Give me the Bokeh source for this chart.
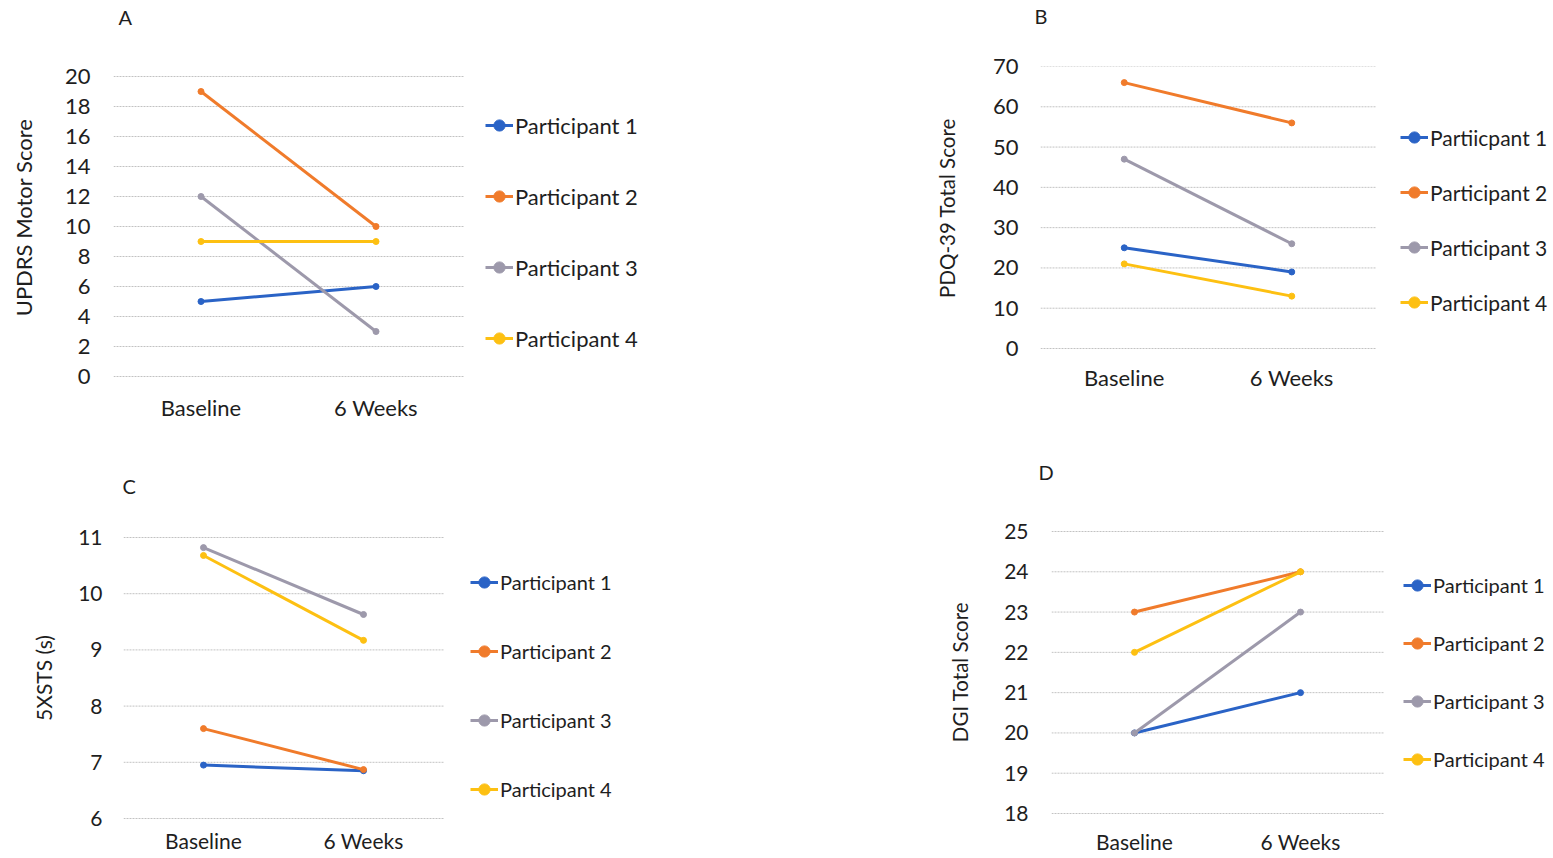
from bokeh.plotting import figure
from bokeh.models import Range1d, FixedTicker, Legend, LegendItem
from bokeh.layouts import row, column
from bokeh.embed import file_html
from bokeh.resources import INLINE

# ---------------- data ----------------
timepoints = ["Baseline", "6 Weeks"]
colors = ["#2a63c6", "#f07b2b", "#9d99ab", "#fdc012"]

a_names = ["Participant 1", "Participant 2", "Participant 3", "Participant 4"]
a_p1 = [5, 6]
a_p2 = [19, 10]
a_p3 = [12, 3]
a_p4 = [9, 9]
a_ticks = [0, 2, 4, 6, 8, 10, 12, 14, 16, 18, 20]

b_names = ["Partiicpant 1", "Participant 2", "Participant 3", "Participant 4"]
b_p1 = [25, 19]
b_p2 = [66, 56]
b_p3 = [47, 26]
b_p4 = [21, 13]
b_ticks = [0, 10, 20, 30, 40, 50, 60, 70]

c_names = ["Participant 1", "Participant 2", "Participant 3", "Participant 4"]
c_p1 = [6.95, 6.85]
c_p2 = [7.6, 6.87]
c_p3 = [10.82, 9.63]
c_p4 = [10.68, 9.17]
c_ticks = [6, 7, 8, 9, 10, 11]

d_names = ["Participant 1", "Participant 2", "Participant 3", "Participant 4"]
d_p1 = [20, 21]
d_p2 = [23, 24]
d_p3 = [20, 23]
d_p4 = [22, 24]
d_ticks = [18, 19, 20, 21, 22, 23, 24, 25]

FONT = "Lato"
TXT = "#1e1e1e"
ITEM_H = 28


def panel(letter, ylabel, series, names, ticks, geo, fonts, leg, axis_gaps):
    # geo: page-pixel layout of the panel
    (fig_x0, fig_x1, row_y0, row_y1, grid_x0, grid_x1, grid_y0, grid_y1,
     frame_top, letter_pad, letter_offset) = geo
    tick_fs, title_fs, leg_fs = fonts
    leg_x, leg_last_center, leg_spacing = leg
    y_standoff, ylab_standoff, x_standoff = axis_gaps

    frame_bottom = grid_y1 + 1
    ncat = len(timepoints)
    x_pos = [i + 0.5 for i in range(ncat)]
    cat_px = (grid_x1 - grid_x0) / ncat
    x_end = (fig_x1 - grid_x0) / cat_px
    per_px = (ticks[-1] - ticks[0]) / (grid_y1 - grid_y0)
    y_end = ticks[-1] + (grid_y0 - frame_top) * per_px
    y_start = ticks[0] - (frame_bottom - grid_y1) * per_px

    p = figure(x_range=Range1d(0, x_end), y_range=Range1d(y_start, y_end),
               width=fig_x1 - fig_x0, height=row_y1 - row_y0,
               output_backend="svg", toolbar_location=None,
               min_border_left=grid_x0 - fig_x0, min_border_right=0,
               min_border_top=frame_top - row_y0,
               min_border_bottom=row_y1 - frame_bottom)
    p.frame_align = False
    p.outline_line_color = None
    p.background_fill_color = "white"
    p.border_fill_color = "white"

    p.title.text = letter
    p.title.align = "left"
    p.title.offset = letter_offset
    p.title.standoff = 0
    p.title.padding = {"left": 0, "right": 0, "top": 0, "bottom": letter_pad}
    p.title.text_font = FONT
    p.title.text_font_size = "20px"
    p.title.text_font_style = "normal"
    p.title.text_color = TXT

    p.xgrid.visible = False
    p.ygrid.visible = False
    # horizontal gridlines spanning the two categories only
    p.segment(x0=0, x1=ncat, y0=ticks, y1=ticks, line_color="#c2c2c2",
              line_dash="2 1", line_width=1)

    p.xaxis.ticker = FixedTicker(ticks=x_pos)
    p.xaxis.major_label_overrides = dict(zip(x_pos, timepoints))
    p.yaxis.ticker = FixedTicker(ticks=ticks)
    for ax in (p.xaxis, p.yaxis):
        ax.axis_line_color = None
        ax.major_tick_line_color = None
        ax.minor_tick_line_color = None
        ax.major_tick_out = 0
        ax.major_tick_in = 0
        ax.major_label_text_font = FONT
        ax.major_label_text_font_size = tick_fs
        ax.major_label_text_color = TXT
    p.xaxis.major_label_standoff = x_standoff
    p.yaxis.major_label_standoff = y_standoff
    p.yaxis.axis_label = ylabel
    p.yaxis.axis_label_text_font = FONT
    p.yaxis.axis_label_text_font_size = title_fs
    p.yaxis.axis_label_text_font_style = "normal"
    p.yaxis.axis_label_text_color = TXT
    p.yaxis.axis_label_standoff = ylab_standoff

    items = []
    for vals, name, col in zip(series, names, colors):
        lr = p.line(x_pos, vals, line_color=col, line_width=3)
        sr = p.scatter(x_pos, vals, marker="circle", size=6,
                       fill_color=col, line_color=col)
        items.append(LegendItem(label=name, renderers=[lr, sr]))
    legend = Legend(items=items,
                    location=(leg_x - grid_x0, frame_bottom - leg_last_center - ITEM_H // 2),
                    orientation="vertical",
                    spacing=leg_spacing, glyph_width=28, glyph_height=ITEM_H,
                    label_height=ITEM_H, label_standoff=2, padding=0,
                    margin=0, border_line_color=None,
                    background_fill_alpha=0,
                    label_text_font=FONT, label_text_font_size=leg_fs,
                    label_text_color=TXT)
    p.add_layout(legend, "center")
    return p


ROW1 = (0, 440)
ROW2 = (440, 856)

pA = panel("A", "UPDRS Motor Score", [a_p1, a_p2, a_p3, a_p4], a_names, a_ticks,
           (0, 915) + ROW1 + (113, 463, 76, 376, 57, 29, 5),
           ("22px", "22px", "22px"), (485, 338, 43), (23, 25, 16))
pB = panel("B", "PDQ-39 Total Score", [b_p1, b_p2, b_p3, b_p4], b_names, b_ticks,
           (915, 1550) + ROW1 + (1040, 1375, 66, 348, 66, 39, -6),
           ("22px", "20.5px", "21px"), (1400, 302, 27), (22, 31, 14))
pC = panel("C", "5XSTS (s)", [c_p1, c_p2, c_p3, c_p4], c_names, c_ticks,
           (0, 928) + ROW2 + (123, 443, 537, 818, 536, 39, -1),
           ("21px", "21px", "20px"), (470, 789, 41), (21, 19, 8))
pD = panel("D", "DGI Total Score", [d_p1, d_p2, d_p3, d_p4], d_names, d_ticks,
           (928, 1550) + ROW2 + (1051, 1383, 531, 813, 529, 46, -13),
           ("21px", "20.5px", "20px"), (1403, 759, 30), (23, 29, 14))

layout = column(row(pA, pB, spacing=0), row(pC, pD, spacing=0), spacing=0)
open("out.html", "w").write(file_html(layout, INLINE))
